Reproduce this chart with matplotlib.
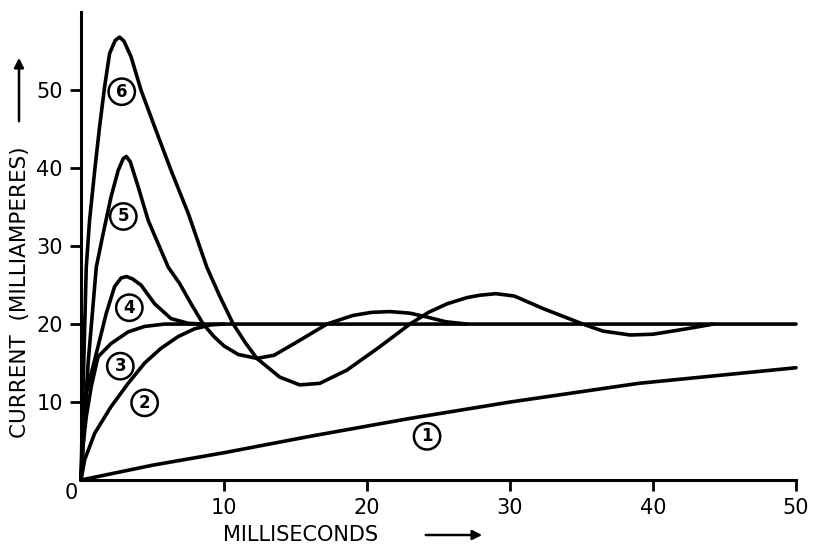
import matplotlib.pyplot as plt

# Кривые тока (мА) от времени (мс)
t1 = [0, 5, 10, 16, 23, 30, 39, 50]
i1 = [0, 1.9, 3.5, 5.6, 7.9, 10.0, 12.4, 14.4]

t2 = [0, 0.26, 0.96, 2.1, 3.3, 4.45, 5.6, 6.8, 7.95, 9.1, 10.0]
i2 = [0, 2.6, 6.0, 9.4, 12.4, 15.0, 16.9, 18.4, 19.4, 19.9, 20.0]

t3 = [0, 0.15, 0.37, 0.72, 1.19, 2.1, 3.3, 4.45, 5.85, 50]
i3 = [0, 4.5, 8.1, 12.0, 15.8, 17.5, 19.0, 19.7, 20.0, 20.0]

t4 = [0, 0.15, 0.37, 0.72, 1.19, 1.77, 2.35, 2.8, 3.17, 3.6, 4.2, 5.15, 6.3, 7.5, 8.5]
i4 = [0, 7.0, 11.1, 13.7, 17.1, 21.4, 24.8, 25.9, 26.1, 25.8, 25.0, 22.6, 20.7, 20.1, 20.0]

t5 = [0, 0.2, 0.5, 1.07, 1.55, 2.1, 2.6, 2.95, 3.17, 3.45, 4.0, 4.7, 6.1, 6.9, 7.7,
      8.55, 9.3, 10.0, 11.0, 12.3, 13.5, 15.1, 17.2, 19.0, 20.3, 21.6, 23.0, 24.2,
      25.5, 27.0]
i5 = [0, 6.0, 15.0, 27.3, 31.6, 36.3, 39.7, 41.2, 41.5, 40.8, 37.6, 33.3, 27.3, 25.2, 22.6,
      20.0, 18.4, 17.2, 16.1, 15.6, 16.0, 17.7, 20.0, 21.1, 21.5, 21.6, 21.4, 20.9,
      20.3, 20.0]

t6 = [0, 0.15, 0.37, 0.6, 0.96, 1.3, 1.65, 2.0, 2.4, 2.7, 3.0, 3.5, 4.2, 5.15, 6.3,
      7.5, 8.8, 9.7, 10.65, 11.5, 12.3, 13.9, 15.3, 16.7, 18.6, 20.9, 23.0, 24.3, 25.6,
      27.0, 27.9, 29.0, 30.3, 32.3, 33.7, 35.1, 36.5, 38.4, 40.0, 41.7, 43.0, 44.2]
i6 = [0, 12.0, 27.3, 33.3, 39.7, 45.3, 50.4, 54.7, 56.4, 56.8, 56.3, 54.3, 50.0, 45.3, 39.7,
      34.2, 27.3, 23.6, 20.0, 17.6, 15.6, 13.2, 12.2, 12.4, 14.1, 17.1, 20.0, 21.5, 22.6,
      23.4, 23.7, 23.9, 23.6, 22.0, 21.0, 20.0, 19.1, 18.6, 18.7, 19.2, 19.6, 20.0]

curves = [(t1, i1), (t2, i2), (t3, i3), (t4, i4), (t5, i5), (t6, i6)]

# Номера кривых в кружках
label_names = ['1', '2', '3', '4', '5', '6']
label_t = [24.2, 4.45, 2.75, 3.38, 2.96, 2.85]
label_i = [5.6, 9.9, 14.6, 22.1, 33.8, 49.8]

x_ticks = [10, 20, 30, 40, 50]
y_ticks = [10, 20, 30, 40, 50]

plt.rcParams['font.family'] = ['DejaVu Sans']

fig = plt.figure(figsize=(8.13, 5.44), dpi=100)
ax = fig.add_axes([0.0996, 0.1176, 0.8795, 0.860])

for t, i in curves:
    ax.plot(t, i, color='black', linewidth=2.6, solid_capstyle='round',
            solid_joinstyle='round', clip_on=False)

for name, t, i in zip(label_names, label_t, label_i):
    ax.text(t, i, name, ha='center', va='center', fontsize=12, fontweight='bold',
            bbox=dict(boxstyle='circle,pad=0.25', fc='white', ec='black', lw=1.8))

ax.set_xlim(0, 50)
ax.set_ylim(0, 60)
ax.spines['top'].set_visible(False)
ax.spines['right'].set_visible(False)
ax.spines['left'].set_linewidth(2.2)
ax.spines['bottom'].set_linewidth(2.2)

ax.set_xticks(x_ticks)
ax.set_yticks(y_ticks)
ax.tick_params(axis='both', direction='out', width=2, length=8, labelsize=15, pad=5)

# Ноль в углу
ax.text(-0.2, -1.7, '0', ha='right', va='center', fontsize=15)

# Подписи осей со стрелками
fig.text(223 / 813, 1 - 535 / 544, 'MILLISECONDS', ha='left', va='center', fontsize=15)
ax.annotate('', xy=(485 / 813, 1 - 535 / 544), xytext=(423 / 813, 1 - 535 / 544),
            xycoords='figure fraction', textcoords='figure fraction',
            arrowprops=dict(arrowstyle='-|>', color='black', lw=1.8, mutation_scale=14))

fig.text(20 / 813, 1 - 292 / 544, 'CURRENT  (MILLIAMPERES)', ha='center', va='center',
         rotation=90, fontsize=15.5)
ax.annotate('', xy=(19 / 813, 1 - 55 / 544), xytext=(19 / 813, 1 - 124 / 544),
            xycoords='figure fraction', textcoords='figure fraction',
            arrowprops=dict(arrowstyle='-|>', color='black', lw=1.8, mutation_scale=14))

fig.savefig('out.png', dpi=100)
